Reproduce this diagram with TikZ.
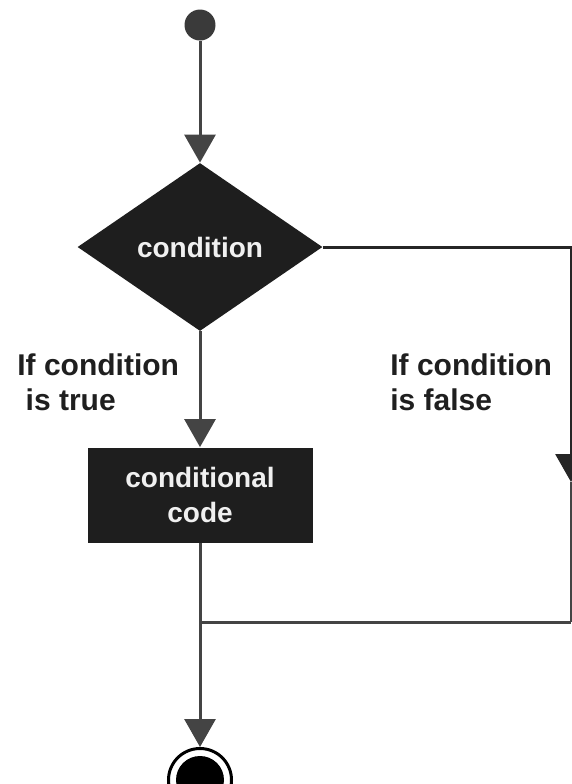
\documentclass[tikz,border=0pt]{standalone}
\usepackage{fontspec}
\setmainfont{Liberation Sans}
\usepackage{xcolor}
\usepackage{tikz}
\usetikzlibrary {positioning}
\usetikzlibrary{arrows.meta,shapes.geometric}
\definecolor{linegray}{HTML}{444444}
\definecolor{boxblack}{HTML}{1E1E1E}
\tikzset{edge/.style = {-{Triangle[length=14pt,width=15.5pt]},draw=linegray,line width=1.5pt}}
\tikzset{plain/.style = {draw=linegray,line width=1.5pt}}

\begin{document}
\begin{tikzpicture}[x=0.5pt,y=-0.5pt,
    main node/.style={fill=boxblack,text=white!94!black,font=\bfseries\fontsize{14}{17.5}\selectfont,align=center,inner sep=0pt},
    label text/.style={text=black!88,font=\bfseries\fontsize{15}{17.5}\selectfont,align=left,anchor=north west,inner sep=0pt}]
            \useasboundingbox (0,0) rectangle (572,784);

            \node[circle,fill=linegray!85!black,minimum size=15.5pt,inner sep=0pt] (start) at (200,25) {};
            \node[main node,diamond,minimum width=122.5pt,minimum height=84pt] (cond) at (200,247) {condition};
            \node[main node,rectangle,minimum width=112.5pt,minimum height=47.5pt] (code) at (200,495) {conditional\\code};
            \node[circle,draw=black,line width=1.5pt,minimum size=31.5pt,inner sep=0pt] (endring) at (200,780) {};
            \node[circle,fill=black,minimum size=24pt,inner sep=0pt] (end) at (200,780) {};

            \node[label text] (truelbl) at (17,353) {If condition\\\ is true};
            \node[label text] (falselbl) at (390,353) {If condition\\is false};

            \coordinate (rtop) at (571,247);
            \coordinate (rarrow) at (571,482);
            \coordinate (rbot) at (571,622);
            \coordinate (join) at (200,622);

            \draw[edge] (start) -- (cond);
            \draw[edge] (cond) -- (code);
            \draw[edge] (code) -- (endring);

            %\draw[edge] (cond.east) -| (rbot);
            \draw[edge,draw=black!85] (cond.east) -- (rtop) -- (rarrow);
            \draw[plain,line width=1pt] (rarrow) -- (rbot);
            \draw[plain] (rbot) -- (join);
        \end{tikzpicture}
\end{document}
